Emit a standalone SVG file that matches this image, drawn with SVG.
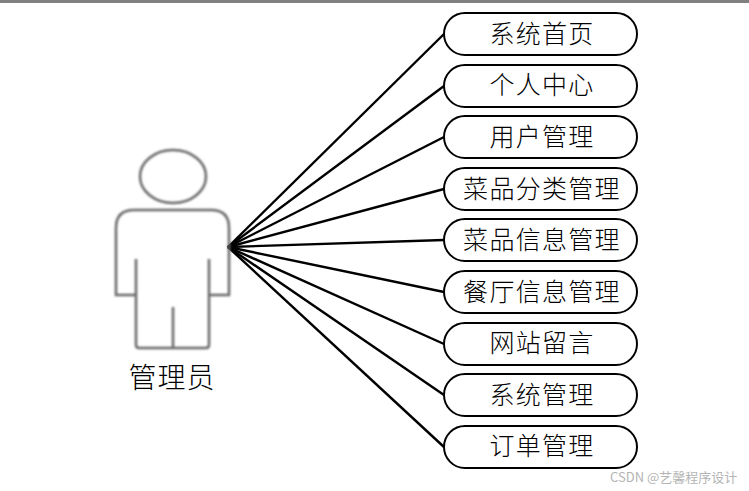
<svg xmlns="http://www.w3.org/2000/svg" width="749" height="491" viewBox="0 0 749 491">
<defs>
<style>
.box{fill:#fff;stroke:#000;stroke-width:2}
.lbl{font-family:"Noto Sans CJK SC","Liberation Serif",serif;font-size:25px;font-weight:300;letter-spacing:1.3px;fill:#000;text-anchor:middle}
.con line{stroke:#000;stroke-width:2.4}
.fig{fill:none;stroke:#666;stroke-width:2.5}
</style>
<filter id="soft" x="-5%" y="-5%" width="110%" height="110%"><feGaussianBlur stdDeviation="0.8"/></filter>
</defs>
<rect width="749" height="491" fill="#fff"/>
<rect width="749" height="3" fill="#808080"/>
<g id="connectors" class="con">
<line x1="228" y1="247" x2="444" y2="34"/>
<line x1="228" y1="247" x2="444" y2="86"/>
<line x1="228" y1="247" x2="444" y2="137"/>
<line x1="228" y1="247" x2="444" y2="189"/>
<line x1="228" y1="247" x2="444" y2="240"/>
<line x1="228" y1="247" x2="444" y2="292"/>
<line x1="228" y1="247" x2="444" y2="344"/>
<line x1="228" y1="247" x2="444" y2="395"/>
<line x1="228" y1="247" x2="444" y2="447"/>
</g>
<g id="actor">
<g class="fig" filter="url(#soft)">
<ellipse cx="173" cy="176.500" rx="33" ry="26.500"/>
<path d="M136 295H116V228Q116 210 134 210H211Q229 210 229 228V295H209"/>
<path d="M136 259V345Q136 348 139 348H206Q209 348 209 345V259"/>
<path d="M173 307V348"/>
</g>
<text class="lbl" x="172" y="388" style="font-size:28px;letter-spacing:1px">管理员</text>
</g>
<g id="n1"><rect class="box" x="444" y="13" width="193" height="42" rx="21"/><text class="lbl" x="542" y="43">系统首页</text></g>
<g id="n2"><rect class="box" x="444" y="65" width="193" height="42" rx="21"/><text class="lbl" x="542" y="94">个人中心</text></g>
<g id="n3"><rect class="box" x="444" y="116" width="193" height="42" rx="21"/><text class="lbl" x="542" y="146">用户管理</text></g>
<g id="n4"><rect class="box" x="444" y="168" width="193" height="42" rx="21"/><text class="lbl" x="542" y="198">菜品分类管理</text></g>
<g id="n5"><rect class="box" x="444" y="219" width="193" height="42" rx="21"/><text class="lbl" x="542" y="249">菜品信息管理</text></g>
<g id="n6"><rect class="box" x="444" y="271" width="193" height="42" rx="21"/><text class="lbl" x="542" y="301">餐厅信息管理</text></g>
<g id="n7"><rect class="box" x="444" y="323" width="193" height="42" rx="21"/><text class="lbl" x="542" y="352">网站留言</text></g>
<g id="n8"><rect class="box" x="444" y="374" width="193" height="42" rx="21"/><text class="lbl" x="542" y="404">系统管理</text></g>
<g id="n9"><rect class="box" x="444" y="426" width="193" height="42" rx="21"/><text class="lbl" x="542" y="455">订单管理</text></g>
<text x="610" y="482" style="font-family:'Noto Sans CJK SC','Liberation Sans',sans-serif;font-size:13px;fill:#b4b4b4">CSDN @艺馨程序设计</text>
</svg>
